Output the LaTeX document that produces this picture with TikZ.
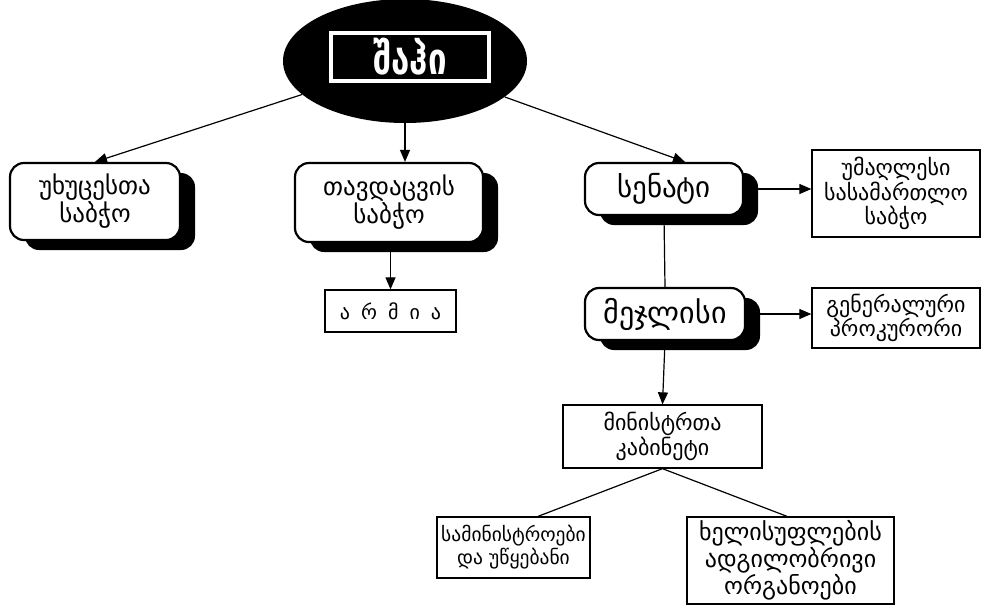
\documentclass[tikz,border=0pt]{standalone}
\usepackage{graphicx}
\usepackage{fontspec}
\newfontfamily\geo{DejaVu Sans}
\usetikzlibrary{arrows.meta,shadows,shapes.geometric}
\begin{document}
\begin{tikzpicture}[x=1pt,y=-1pt,
  rbox/.style={draw, line width=2.2pt, rounded corners=14pt, fill=white, align=center, inner sep=0pt,
    font=\geo\fontsize{25}{28}\selectfont,
    general shadow={fill=black, shadow xshift=15pt, shadow yshift=-10pt, rounded corners=14pt}},
  pbox/.style={draw, line width=1.3pt, fill=white, align=center, inner sep=0pt,
    font=\geo\fontsize{22}{23}\selectfont},
  arr/.style={line width=1.2pt, -{Triangle[length=12pt,width=10pt]}},
  ln/.style={line width=1.2pt}]
\useasboundingbox (0,0) rectangle (982,606);
% top
\node[ellipse, fill=black, minimum width=244pt, minimum height=124pt, inner sep=0pt] (shah) at (405,61) {};
\node[draw=white, line width=3.5pt, minimum width=158pt, minimum height=48pt, inner sep=0pt, text=white,
  font=\geo\bfseries\fontsize{44}{46}\selectfont] (shahlabel) at (410,57) {\scalebox{0.75}[1]{შაჰი}};
% rounded boxes
\node[rbox, minimum width=170pt, minimum height=77pt] (elders) at (95,201.5) {უხუცესთა\\საბჭო};
\node[rbox, minimum width=188pt, minimum height=79pt] (defense) at (389,202.5) {თავდაცვის\\საბჭო};
\node[rbox, minimum width=158pt, minimum height=52pt, font=\geo\fontsize{29}{30}\selectfont] (senate) at (664,189) {სენატი};
\node[rbox, minimum width=160pt, minimum height=52pt, font=\geo\fontsize{30}{30}\selectfont] (majlis) at (665,314) {მეჯლისი};
% plain boxes
\node[pbox, minimum width=168pt, minimum height=87pt] (supreme) at (896,193.5) {უმაღლესი\\სასამართლო\\საბჭო};
\node[pbox, minimum width=131pt, minimum height=42pt, font=\geo\fontsize{20}{23}\selectfont] (army) at (390.5,311)
  {ა\hspace{11pt}რ\hspace{11pt}მ\hspace{11pt}ი\hspace{11pt}ა};
\node[pbox, minimum width=168pt, minimum height=60pt] (prosecutor) at (896,318) {გენერალური\\პროკურორი};
\node[pbox, minimum width=199pt, minimum height=63pt] (cabinet) at (662.5,436.5) {მინისტრთა\\კაბინეტი};
\node[pbox, minimum width=153pt, minimum height=61pt, font=\geo\fontsize{19.5}{23}\selectfont] (ministries) at (513.5,547.5) {სამინისტროები\\და უწყებანი};
\node[pbox, minimum width=207pt, minimum height=87pt, font=\geo\fontsize{24}{25}\selectfont] (local) at (790.5,560.5) {ხელისუფლების\\ადგილობრივი\\ორგანოები};
% connectors
\draw[arr] (shah) -- (elders.north);
\draw[arr] (shah.south) -- (shah.south |- defense.north);
\draw[arr] (shah) -- ([xshift=21pt]senate.north);
\draw[arr] (defense.south -| army.north) -- (army.north);
\draw[ln] (senate.south) -- (majlis.north);
\draw[arr] (majlis.south) -- (cabinet.north);
\draw[arr] (senate.east) -- (senate.east -| supreme.west);
\draw[arr] (majlis.east) -- (majlis.east -| prosecutor.west);
\draw[ln] ([xshift=24.5pt]ministries.north) -- (cabinet.south) -- ([xshift=-3.5pt]local.north);
\end{tikzpicture}
\end{document}
